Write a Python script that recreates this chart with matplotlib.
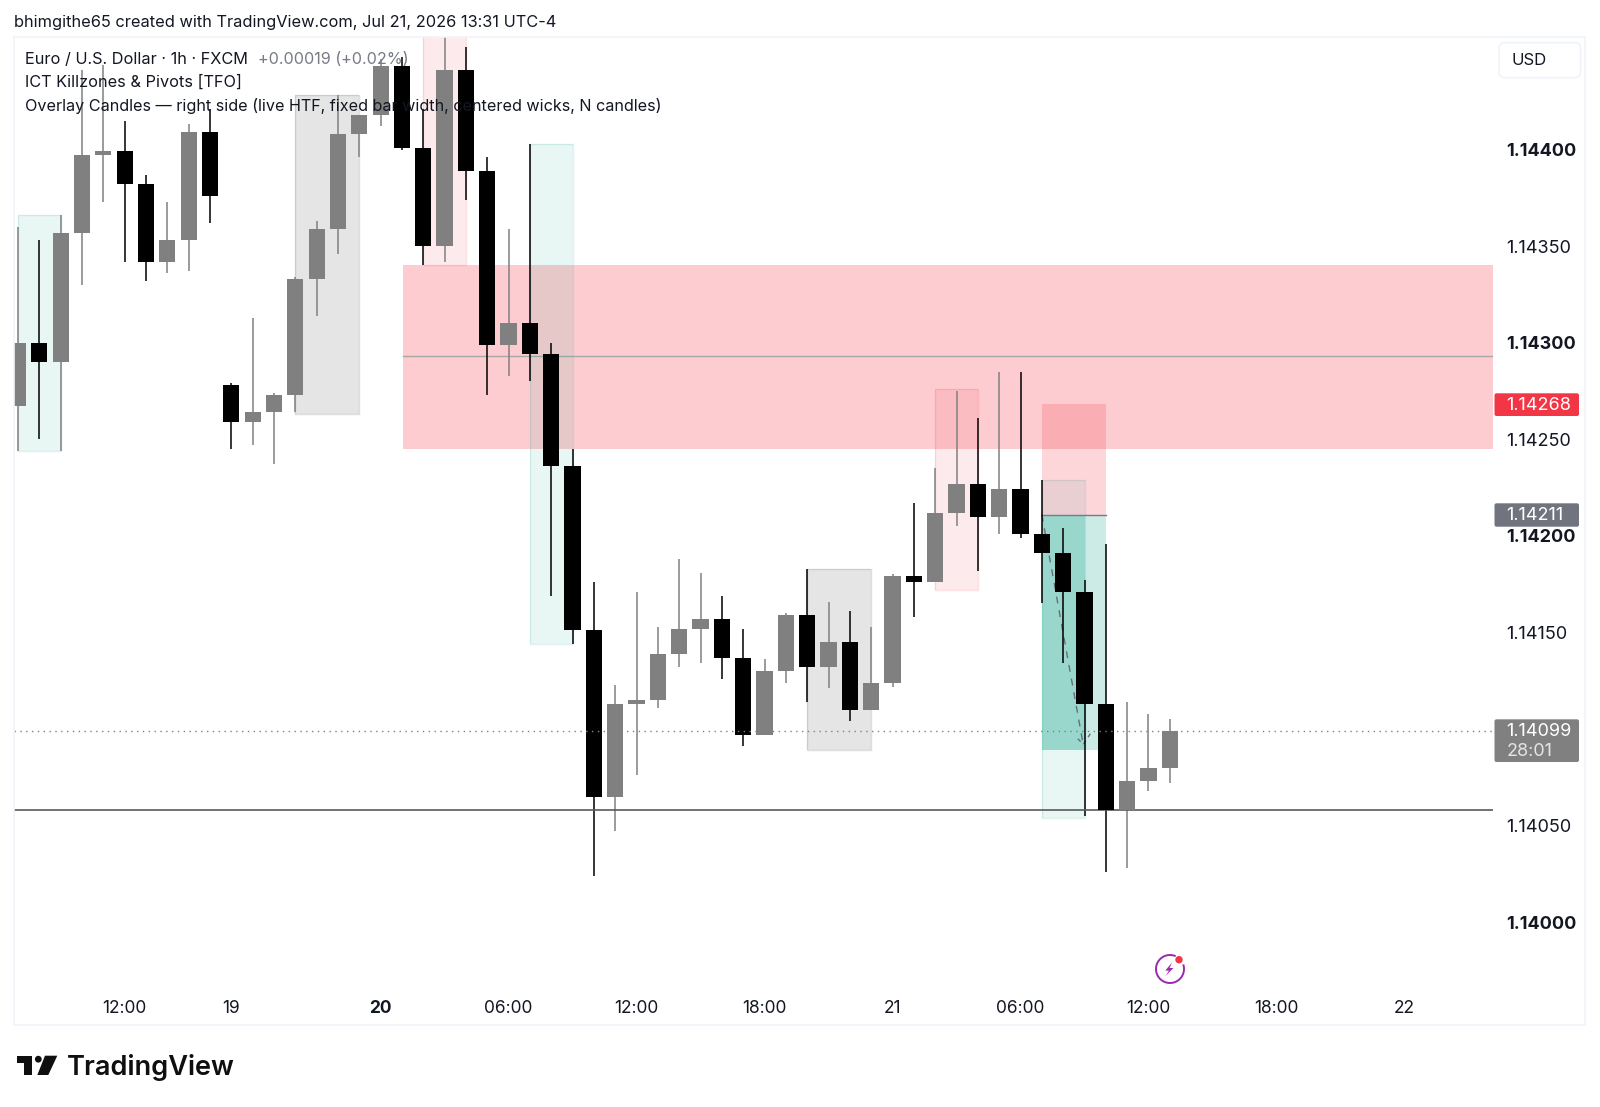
import matplotlib
matplotlib.use('Agg')
import matplotlib.pyplot as plt
import numpy as np
from matplotlib.patches import FancyBboxPatch, Polygon, Circle, Rectangle

plt.rcParams['font.family'] = ['Inter', 'DejaVu Sans']

# hourly candles, left to right
opens = [1.14267, 1.14300, 1.14290, 1.14357, 1.14397, 1.14399, 1.14382, 1.14342, 1.14353, 1.14409,
         1.14278, 1.14259, 1.14264, 1.14273, 1.14333, 1.14359, 1.14408, 1.14418, 1.14443, 1.14401,
         1.14350, 1.14441, 1.14389, 1.14299, 1.14310, 1.14294, 1.14236, 1.14151, 1.14065, 1.14113,
         1.14115, 1.14139, 1.14152, 1.14157, 1.14137, 1.14097, 1.14130, 1.14159, 1.14132, 1.14145,
         1.14110, 1.14124, 1.14179, 1.14176, 1.14212, 1.14227, 1.14210, 1.14224, 1.14201, 1.14191,
         1.14171, 1.14113, 1.14058, 1.14073, 1.14080]
highs = [1.14360, 1.14353, 1.14366, 1.14441, 1.14444, 1.14415, 1.14387, 1.14373, 1.14413, 1.14421,
         1.14279, 1.14313, 1.14274, 1.14334, 1.14363, 1.14428, 1.14418, 1.14447, 1.14448, 1.14421,
         1.14470, 1.14453, 1.14396, 1.14359, 1.14403, 1.14300, 1.14245, 1.14176, 1.14123, 1.14171,
         1.14153, 1.14188, 1.14181, 1.14169, 1.14152, 1.14136, 1.14160, 1.14183, 1.14166, 1.14161,
         1.14153, 1.14180, 1.14217, 1.14235, 1.14275, 1.14261, 1.14285, 1.14285, 1.14229, 1.14204,
         1.14177, 1.14196, 1.14114, 1.14108, 1.14105]
lows = [1.14244, 1.14250, 1.14244, 1.14330, 1.14373, 1.14342, 1.14332, 1.14336, 1.14337, 1.14362,
        1.14245, 1.14247, 1.14237, 1.14264, 1.14314, 1.14346, 1.14396, 1.14412, 1.14400, 1.14340,
        1.14342, 1.14374, 1.14273, 1.14283, 1.14280, 1.14169, 1.14144, 1.14024, 1.14047, 1.14076,
        1.14111, 1.14132, 1.14134, 1.14126, 1.14091, 1.14097, 1.14124, 1.14114, 1.14121, 1.14104,
        1.14110, 1.14122, 1.14158, 1.14176, 1.14205, 1.14182, 1.14201, 1.14199, 1.14165, 1.14134,
        1.14055, 1.14026, 1.14028, 1.14068, 1.14072]
closes = [1.14300, 1.14290, 1.14357, 1.14397, 1.14399, 1.14382, 1.14342, 1.14353, 1.14409, 1.14376,
          1.14259, 1.14264, 1.14273, 1.14333, 1.14359, 1.14408, 1.14418, 1.14443, 1.14401, 1.14350,
          1.14441, 1.14389, 1.14299, 1.14310, 1.14294, 1.14236, 1.14151, 1.14065, 1.14113, 1.14115,
          1.14139, 1.14152, 1.14157, 1.14137, 1.14097, 1.14130, 1.14159, 1.14132, 1.14145, 1.14110,
          1.14124, 1.14179, 1.14176, 1.14212, 1.14227, 1.14210, 1.14224, 1.14201, 1.14191, 1.14171,
          1.14113, 1.14058, 1.14073, 1.14080, 1.14099]

# killzone boxes: first bar, last bar, top, bottom
teal_boxes = [(0, 2, 1.14366, 1.14244), (24, 26, 1.14403, 1.14144), (48, 50, 1.14229, 1.14054)]
gray_boxes = [(13, 16, 1.14428, 1.14263), (37, 40, 1.14183, 1.14089)]
pink_boxes = [(19, 21, 1.14470, 1.14340), (43, 45, 1.14276, 1.14172)]

# supply zone, its midline and the last closed price line
zone_start = 18.03
zone_top = 1.14340
zone_bottom = 1.14245
zone_mid = 1.14293
close_line = 1.14058
last_price = 1.14099

# short position tool
pos_start, pos_end, pos_fill_end = 48, 51, 50
stop_price = 1.14268
entry_price = 1.14211
target_price = 1.14089

tick_bars = [5, 10, 17, 23, 29, 35, 41, 47, 53, 59, 65]
tick_names = ['12:00', '19', '20', '06:00', '12:00', '18:00', '21', '06:00', '12:00', '18:00', '22']
price_ticks = [1.14000, 1.14050, 1.14150, 1.14200, 1.14250, 1.14300, 1.14350, 1.14400]
bold_prices = [1.14000, 1.14200, 1.14300, 1.14400]

RED = '#f23645'
TEAL = '#22ab94'
TEXT = '#131722'

fig = plt.figure(figsize=(16, 11.07), dpi=100)

# pane is placed in pixels: x 14..1493, y 37..985
W, H = 1600.0, 1107.0
ax = fig.add_axes([14 / W, 1 - 985 / H, (1493 - 14) / W, (985 - 37) / H])
bar_px = 21.33
first_bar_px = 18.0
ax.set_xlim((14 - first_bar_px) / bar_px, (1493 - first_bar_px) / bar_px)
px_per_price = 193170.0
ax.set_ylim(1.144 - (985 - 149.5) / px_per_price, 1.144 + (149.5 - 37) / px_per_price)

for side in ax.spines.values():
    side.set_visible(False)

# boxes under the candles
ax.add_patch(Rectangle((zone_start, zone_bottom), 1e3, zone_top - zone_bottom,
                       fc='#fb3645', alpha=0.25, lw=0, zorder=1))
ax.plot([zone_start, 200], [zone_mid, zone_mid], color='#a8a8a8', lw=1.0, zorder=1.5)


def draw_boxes(boxes, color, alpha, edge):
    for first, last, top, bottom in boxes:
        ax.add_patch(Rectangle((first, bottom), last - first, top - bottom,
                               fc=color, alpha=alpha, lw=0, zorder=2))
        ax.add_patch(Rectangle((first, bottom), last - first, top - bottom,
                               fc='none', ec=edge, lw=1.0, zorder=2))


draw_boxes(teal_boxes, TEAL, 0.1, '#22ab9426')
draw_boxes(gray_boxes, '#808080', 0.2, '#80808040')
draw_boxes(pink_boxes, RED, 0.1, '#f2364526')

# position tool
pw = pos_end - pos_start
ax.add_patch(Rectangle((pos_start, entry_price), pw, stop_price - entry_price, fc=RED, alpha=0.2, lw=0, zorder=2))
ax.add_patch(Rectangle((pos_start, target_price), pw, entry_price - target_price, fc=TEAL, alpha=0.226, lw=0, zorder=2))
ax.add_patch(Rectangle((pos_start, target_price), pos_fill_end - pos_start, entry_price - target_price,
                       fc=TEAL, alpha=0.22, lw=0, zorder=2))
ax.plot([pos_start, pos_end], [entry_price, entry_price], color='#787b86', lw=1.0, zorder=2.5)
ax.plot([pos_start, pos_fill_end - 0.06], [entry_price, target_price + 0.00003], color='#6a6d78', lw=1.0,
        ls=(0, (5, 5)), zorder=2.5)
ax.plot([pos_fill_end - 0.95 * 0.33, pos_fill_end - 0.06, pos_fill_end + 0.3],
        [target_price + 0.00006, target_price + 0.00003, target_price + 0.00009], color='#6a6d78', lw=1.0,
        ls=(0, (3, 3)), zorder=2.5)

# candles
bars = np.arange(len(opens))
o = np.array(opens)
c = np.array(closes)
colors = np.where(c < o, '#000000', '#808080')
ax.vlines(bars, lows, highs, colors=colors, lw=1.1, zorder=3)
ax.bar(bars, np.abs(c - o), bottom=np.minimum(o, c), width=0.76, color=colors, lw=0, zorder=3.2)

ax.axhline(close_line, color='#5a5a5a', lw=1.2, zorder=3.1)
ax.axhline(last_price, color='#808080', lw=1.0, ls=(0, (1, 3.2)), zorder=3.3)

# axes labels
ax.set_xticks(tick_bars)
ax.set_xticklabels(tick_names, fontsize=12.5)
ax.xaxis.get_ticklabels()[2].set_fontweight('bold')
ax.tick_params(axis='x', length=0, pad=11, labelcolor=TEXT)
ax.yaxis.tick_right()
ax.set_yticks(price_ticks)
ax.set_yticklabels(['%.5f' % p for p in price_ticks], fontsize=13)
for lab, p in zip(ax.yaxis.get_ticklabels(), price_ticks):
    if p in bold_prices:
        lab.set_fontweight('bold')
ax.tick_params(axis='y', length=0, pad=9.5, labelcolor=TEXT)

# pixel overlay for the window chrome
ov = fig.add_axes([0, 0, 1, 1], zorder=5)
ov.set_xlim(0, W)
ov.set_ylim(H, 0)
ov.axis('off')
ov.patch.set_alpha(0)

ov.plot([14, 14, 1585, 1585, 14], [36.5, 1024.5, 1024.5, 36.5, 36.5], color='#f0f3fa', lw=1.2)

ov.text(14, 22.5, 'bhimgithe65 created with TradingView.com, Jul 21, 2026 13:31 UTC-4',
        fontsize=11.8, color=TEXT, va='center')
ov.text(25, 59.5, 'Euro / U.S. Dollar · 1h · FXCM', fontsize=11.75, color=TEXT, va='center')
ov.text(257.5, 59.5, '+0.00019 (+0.02%)', fontsize=11.65, color='#787b86', va='center')
ov.text(25, 82.5, 'ICT Killzones & Pivots [TFO]', fontsize=11.75, color=TEXT, va='center')
ov.text(25, 106, 'Overlay Candles — right side (live HTF, fixed bar width, centered wicks, N candles)',
        fontsize=11.65, color=TEXT, va='center')

ov.add_patch(FancyBboxPatch((1499, 42.7), 81.6, 35, boxstyle='round,pad=0,rounding_size=6',
                            fc='white', ec='#f0f3fa', lw=1.2))
ov.text(1511.5, 60.5, 'USD', fontsize=12, color=TEXT, va='center')


def price_tag(top, bottom, color, label, y, extra=None):
    ov.add_patch(FancyBboxPatch((1494.5, top), 84.5, bottom - top, boxstyle='round,pad=0,rounding_size=2',
                                fc=color, ec='none', zorder=6))
    ov.text(1506.6, y, label, fontsize=13, color='white', va='center', zorder=7)
    if extra:
        ov.text(1506.6, y + 20, extra, fontsize=13, color='#e4e4e4', va='center', zorder=7)


price_tag(393.3, 416, RED, '%.5f' % stop_price, 405)
price_tag(503.3, 526.7, '#71747f', '%.5f' % entry_price, 516)
price_tag(719.3, 762, '#808080', '%.5f' % last_price, 731.5, '28:01')

# lightning icon
t = np.radians(np.linspace(70, 375, 80))
ov.plot(1170 + 14 * np.cos(t), 969 - 14 * np.sin(t), color='#9c27b0', lw=1.4)
ov.add_patch(Polygon([(1172, 962.5), (1165.3, 970.6), (1169, 970.6), (1165.5, 976),
                      (1173.5, 968), (1169.6, 968)], fc='#9c27b0', ec='none'))
ov.add_patch(Circle((1179, 959.7), 3.7, fc=RED, ec='none'))

# TradingView logo
ov.add_patch(Polygon([(16.7, 1055.7), (32.3, 1055.7), (32.3, 1075), (24.3, 1075), (24.3, 1063.3), (16.7, 1063.3)],
                     fc='#0f0f0f', ec='none'))
ov.add_patch(Circle((38.3, 1059.2), 3.4, fc='#0f0f0f', ec='none'))
ov.add_patch(Polygon([(45, 1055.7), (57.3, 1055.7), (48.3, 1075), (37.3, 1075)], fc='#0f0f0f', ec='none'))
ov.text(67, 1075, 'TradingView', fontsize=19.6, fontweight='semibold', color='#0f0f0f', va='baseline')

fig.savefig('out.png', dpi=100)
